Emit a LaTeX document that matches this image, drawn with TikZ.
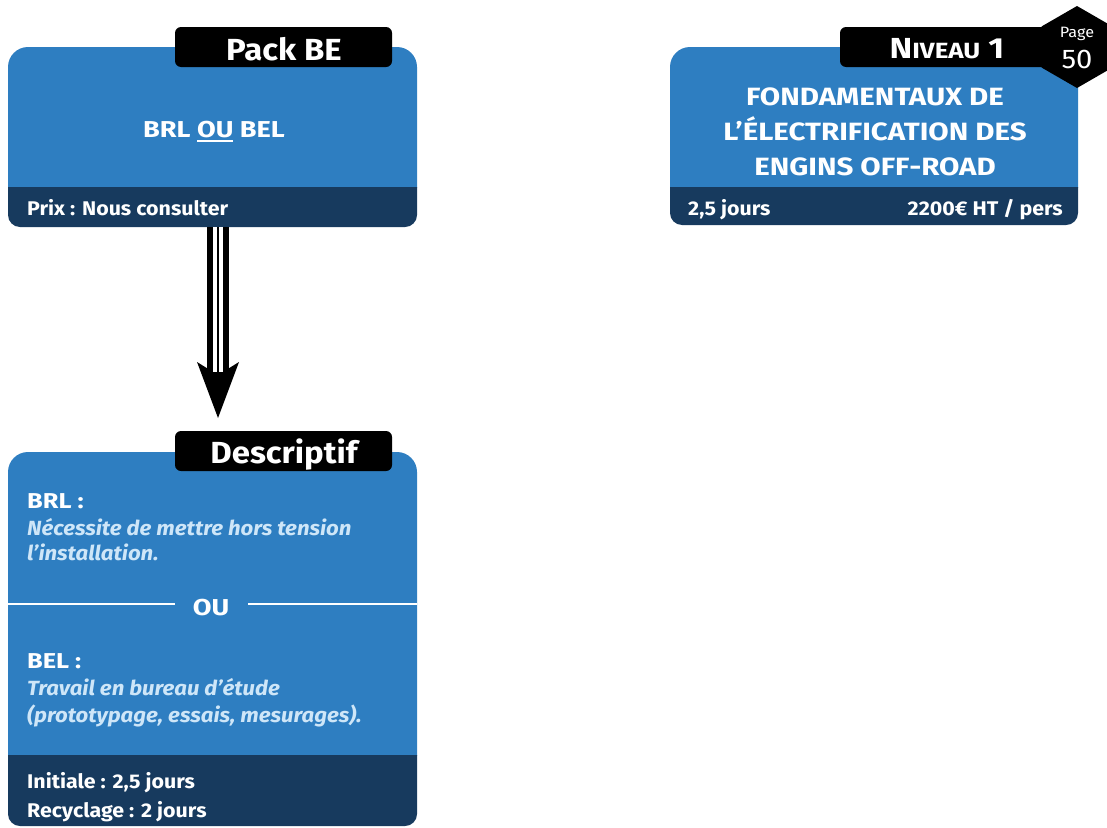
\documentclass[tikz,border=0pt]{standalone}
\usepackage{fontspec}
\setmainfont[FakeStretch=1.08]{Fira Sans}
\newfontfamily\headfont[FakeStretch=1.18]{Fira Sans}
\usetikzlibrary{arrows.meta,shapes.geometric}
\definecolor{cardblue}{RGB}{46,126,193}
\definecolor{carddark}{RGB}{23,58,94}
\definecolor{lighttext}{RGB}{206,230,248}
\newcommand\cardshape[5]{%
  \begin{scope}\clip (#1,#2) rectangle (#3,#5);
    \fill[cardblue, rounded corners=20pt] (#1,#2) rectangle (#3,#4);\end{scope}
  \begin{scope}\clip (#1,#5) rectangle (#3,#4);
    \fill[carddark, rounded corners=12pt] (#1,#2) rectangle (#3,#4);\end{scope}}
\newcommand\ulword[1]{\setbox0\hbox{#1}\rlap{\rule[-5pt]{\wd0}{1.6pt}}\box0\relax}
\tikzset{
  area/.style={inner sep=0pt, outer sep=0pt},
  tabbox/.style={fill=black, rounded corners=6pt, inner sep=0pt},
  tabtxt/.style={text=white, inner sep=0pt, anchor=base, font=\bfseries\fontsize{30.5}{34}\selectfont},
  headtxt/.style={text=white, inner sep=0pt, anchor=base, font=\headfont\bfseries\fontsize{23}{26}\selectfont},
  titletxt/.style={text=white, inner sep=0pt, anchor=base, font=\headfont\bfseries\fontsize{25}{28}\selectfont},
  labeltxt/.style={text=white, inner sep=0pt, anchor=base west, font=\headfont\bfseries\fontsize{21.5}{24}\selectfont},
  desctxt/.style={text=lighttext, inner sep=0pt, anchor=base west, font=\bfseries\itshape\fontsize{20.5}{24}\selectfont},
  bandtxt/.style={text=white, inner sep=0pt, anchor=base west, font=\bfseries\fontsize{19.8}{22}\selectfont},
  sepline/.style={white, line width=2.4pt},
}
\begin{document}
\begin{tikzpicture}[x=1pt, y=-1pt]
\useasboundingbox (0,0) rectangle (1107,827);
% card areas
\node[area, minimum width=409pt, minimum height=180pt] (packbox) at (212.5,137) {};
\node[area, minimum width=409pt, minimum height=374pt] (descbox) at (212.5,639) {};
\node[area, minimum width=408pt, minimum height=178pt] (levelbox) at (874,136) {};
\cardshape{8}{47}{417}{227}{187}
\cardshape{8}{452}{417}{826}{755}
\cardshape{670}{47}{1078}{225}{187}
% tabs
\node[tabbox, minimum width=217pt, minimum height=40pt] (packtab) at (283.5,47) {};
\node[tabbox, minimum width=217pt, minimum height=40pt] (desctab) at (283.5,451) {};
\node[tabbox, minimum width=222pt, minimum height=40pt] (leveltab) at (951,47) {};
\node[regular polygon, regular polygon sides=6, shape border rotate=30, minimum size=82pt,
  fill=black, inner sep=0pt] (pagehex) at (1077,47) {};
\node[tabtxt] (packtitle) at (284,60) {Pack BE};
\node[tabtxt] (desctitle) at (284,463) {Descriptif};
\node[tabtxt, font=\headfont\bfseries\fontsize{29}{32}\selectfont] (leveltitle) at (947,58)
  {N{\fontsize{22}{24}\selectfont IVEAU} 1};
\node[text=white, inner sep=0pt, anchor=base, font=\fontsize{15}{17}\selectfont] (pagelbl) at (1077,37) {Page};
\node[text=white, inner sep=0pt, anchor=base, font=\fontsize{27}{29}\selectfont] (pagenum) at (1077,68) {50};
% arrow
\coordinate (arrstart) at ([xshift=5.5pt]packbox.south);
\coordinate (arrtip) at ([xshift=5.5pt,yshift=34pt]descbox.north);
\draw[line width=21.3pt, -{Stealth[length=56pt,width=42pt,inset=13pt,line width=0pt]}] (arrstart) -- (arrtip);
\draw[white, line width=9.8pt, shorten >=46pt] (arrstart) -- (arrtip);
\draw[black, line width=2.6pt, shorten >=46pt] (arrstart) -- (arrtip);
% card 1 text
\node[headtxt] (packmain) at (214,137) {BRL \ulword{OU} BEL};
\node[bandtxt] (packprice) at (27,215) {Prix : Nous consulter};
% card 2 text
\node[labeltxt] (brl) at (27,508) {BRL :};
\node[desctxt] (brl1) at (27,535) {Nécessite de mettre hors tension};
\node[desctxt] (brl2) at (27,560) {l’installation.};
\node[headtxt] (orlbl) at (211,615) {OU};
\draw[sepline] (descbox.west |- 0,604) -- (175,604);
\draw[sepline] (248,604) -- (descbox.east |- 0,604);
\node[labeltxt] (bel) at (27,668) {BEL :};
\node[desctxt] (bel1) at (27,695) {Travail en bureau d’étude};
\node[desctxt] (bel2) at (27,722) {(prototypage, essais, mesurages).};
\node[bandtxt] (initiale) at (27,788) {Initiale : 2,5 jours};
\node[bandtxt] (recycl) at (27,817) {Recyclage : 2 jours};
% card 3 text
\node[titletxt] (lv1) at (875,105) {FONDAMENTAUX DE};
\node[titletxt] (lv2) at (875,140) {L’ÉLECTRIFICATION DES};
\node[titletxt] (lv3) at (875,175) {ENGINS OFF-ROAD};
\node[bandtxt] (lvdays) at (688,215) {2,5 jours};
\node[bandtxt, anchor=base east] (lvprice) at (1063,215) {2200€ HT / pers};
\end{tikzpicture}
\end{document}
